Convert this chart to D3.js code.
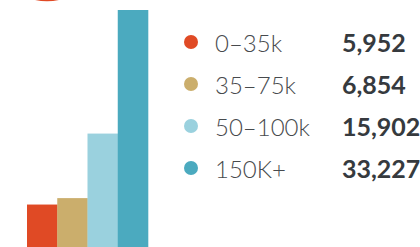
<!DOCTYPE html>
<meta charset="utf-8">
<script src="https://d3js.org/d3.v7.min.js"></script>
<style>
  body { margin: 0; background: #fff; }
  text { font-family: Lato, "Open Sans", sans-serif; }
</style>
<div id="chart"></div>
<script>
  // chart data
  var categories = ["0–35k", "35–75k", "50–100k", "150K+"];
  var counts = [5952, 6854, 15902, 33227];
  var colors = ["#e04a25", "#cbae6c", "#9ad1de", "#4baabf"];

  var width = 420, height = 247;

  var svg = d3.select("#chart")
    .append("svg")
      .attr("width", width)
      .attr("height", height);

  // red blob peeking in at the top
  svg.append("circle")
    .attr("cx", 47)
    .attr("cy", -54)
    .attr("r", 55.3)
    .attr("fill", colors[0]);

  // bars
  var x = d3.scaleBand()
    .domain(categories)
    .range([27, 148])
    .padding(0);

  var y = d3.scaleLinear()
    .domain([0, d3.max(counts)])
    .range([247, 10]);

  svg.selectAll("rect")
    .data(categories)
    .enter()
    .append("rect")
      .attr("x", function(d) { return x(d); })
      .attr("y", function(d, i) { return y(counts[i]); })
      .attr("width", x.bandwidth() + 0.3)
      .attr("height", function(d, i) { return y(0) - y(counts[i]); })
      .attr("fill", function(d, i) { return colors[i]; });

  // legend
  var row = d3.scalePoint()
    .domain(categories)
    .range([42, 168]);

  var fmt = d3.format(",");

  var legend = svg.selectAll(".legend")
    .data(categories)
    .enter()
    .append("g")
      .attr("class", "legend")
      .attr("transform", function(d) { return "translate(0," + row(d) + ")"; });

  legend.append("circle")
    .attr("cx", 191)
    .attr("cy", 0)
    .attr("r", 7)
    .attr("fill", function(d, i) { return colors[i]; });

  legend.append("text")
    .attr("x", 215)
    .attr("y", 9.5)
    .attr("font-size", "24px")
    .attr("font-weight", 300)
    .attr("fill", "#474a4d")
    .text(function(d) { return d; });

  legend.append("text")
    .attr("x", 342)
    .attr("y", 9.5)
    .attr("font-size", "25px")
    .attr("font-weight", 700)
    .attr("fill", "#363a3e")
    .text(function(d, i) { return fmt(counts[i]); });
</script>
